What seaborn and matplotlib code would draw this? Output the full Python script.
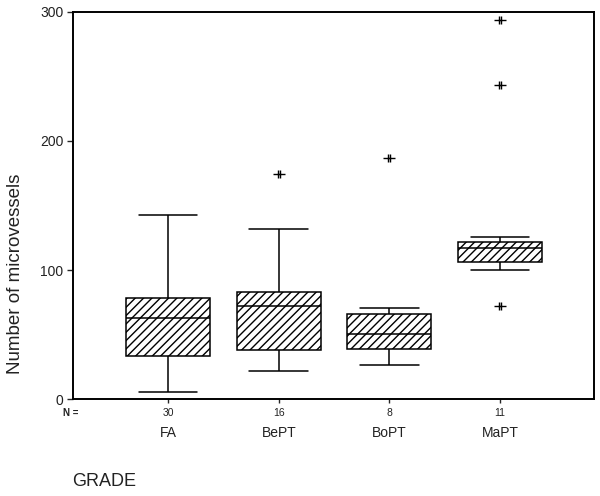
import numpy as np
import pandas as pd
import seaborn as sns
import matplotlib.pyplot as plt
from matplotlib.path import Path

# Values (five-number summary per group + extreme points)
grades = ["FA", "BePT", "BoPT", "MaPT"]
n_cases = [30, 16, 8, 11]
whisker_low = [6, 22, 26.5, 100]
q1 = [34, 38, 39, 106]
median = [63, 72, 51, 117]
q3 = [78.5, 83, 66.5, 121.5]
whisker_high = [142.5, 132, 70.5, 125.5]
extreme_grade = ["BePT", "BoPT", "MaPT", "MaPT", "MaPT"]
extreme_value = [174.5, 186.5, 293.5, 243, 72]

sns.set_style("ticks")
plt.rcParams['font.family'] = ['Liberation Sans', 'DejaVu Sans']

# long-form table: 5 points per group so the quartiles land on the read values
rows = []
for i, g in enumerate(grades):
    for v in (whisker_low[i], q1[i], median[i], q3[i], whisker_high[i]):
        rows.append({"grade": g, "value": v})
df = pd.DataFrame(rows)
df_ext = pd.DataFrame({"grade": extreme_grade, "value": extreme_value})

fig = plt.figure(figsize=(6, 4.96), dpi=100)
ax = fig.add_axes([0.1217, 0.1946, 0.8683, 0.7818])

sns.boxplot(data=df, x="grade", y="value", order=grades, color="white",
            linecolor="black", linewidth=1.1, width=0.76, whis=np.inf,
            showfliers=False, capwidths=0.53, ax=ax)
for p in ax.patches:
    p.set_hatch("////")
    p.set_edgecolor("black")

# asterisk-like marker for extreme values
star = Path([(-1, 0), (1, 0), (-0.22, -0.7), (-0.22, 0.7), (0.22, -0.7), (0.22, 0.7)],
            [Path.MOVETO, Path.LINETO, Path.MOVETO, Path.LINETO, Path.MOVETO, Path.LINETO])
sns.stripplot(data=df_ext, x="grade", y="value", order=grades, jitter=False,
              marker=star, size=9, color="black", edgecolor="black",
              linewidth=1.0, ax=ax)

ax.set_xlim(-0.86, 3.85)
ax.set_ylim(0, 300)
ax.set_yticks([0, 100, 200, 300])
for s in ax.spines.values():
    s.set_visible(True)
    s.set_linewidth(1.4)
    s.set_color("black")

ax.tick_params(axis="y", labelsize=10, length=4, width=1, labelcolor="#222222", pad=3)
ax.tick_params(axis="x", labelsize=10, length=3, width=1, labelcolor="#222222", pad=16)
ax.set_xlabel("")
ax.set_ylabel("Number of microvessels", fontsize=13.5, color="#222222")
ax.yaxis.set_label_coords(-0.095, 0.324)

# case counts under each box
for i, n in enumerate(n_cases):
    ax.text(i, -0.035, str(n), transform=ax.get_xaxis_transform(),
            ha="center", va="center", fontsize=7.5, color="#222222")
ax.text(-0.004, -0.035, "N =", transform=ax.transAxes, ha="center", va="center",
        fontsize=7, color="#222222", fontweight="bold")

fig.text(72 / 600, 1 - 481 / 496, "GRADE", ha="left", va="center",
         fontsize=13, color="#222222")

fig.savefig("out.png", dpi=100)
